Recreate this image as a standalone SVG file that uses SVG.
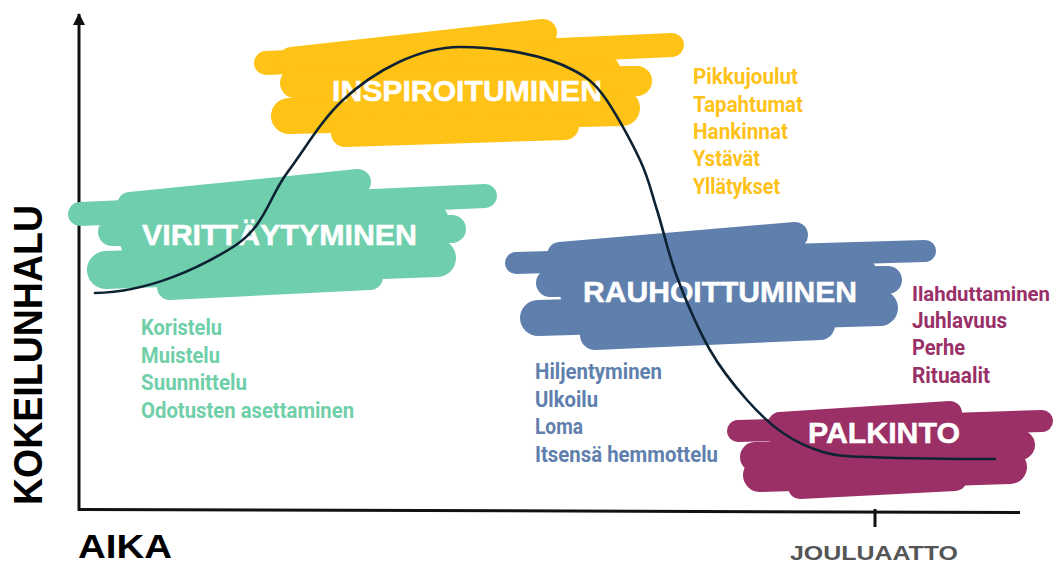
<svg xmlns="http://www.w3.org/2000/svg" width="1057" height="565" viewBox="0 0 1057 565">
<defs>
<style>
.bg{fill:#ffffff}
.axis{stroke:#111111;stroke-width:3;fill:none}
.br{fill:none;stroke-linecap:round;stroke-linejoin:round}
.green .br{stroke:#6fcfad}
.yellow .br{stroke:#ffc216}
.blue .br{stroke:#5f7fad}
.magenta .br{stroke:#9b3066}
.label{font-family:"Liberation Sans",Arial,sans-serif;font-weight:700;font-size:30px;fill:#ffffff;stroke:#ffffff;stroke-width:0.5}
.list{font-family:Roboto,"Liberation Sans",sans-serif;font-weight:700;font-size:22px}
.green .list{fill:#6fcfa9}
.yellow .list{fill:#ffc21a}
.blue .list{fill:#5f7fae}
.magenta .list{fill:#9a3068}
.curve{fill:none;stroke:#0d2233;stroke-width:2.6;stroke-linecap:round}
.axtitle{font-family:"Liberation Sans",Arial,sans-serif;font-weight:700;fill:#000000}
</style>
<marker id="arrow" viewBox="0 0 12 12" refX="11" refY="6" markerWidth="12" markerHeight="12" markerUnits="userSpaceOnUse" orient="auto">
<path d="M0,0 L12,6 L0,12 Z" fill="#111111"/>
</marker>
</defs>
<rect class="bg" x="0" y="0" width="1057" height="565"/>

<g id="axes">
<line class="axis" x1="79" y1="511" x2="79" y2="14" marker-end="url(#arrow)"/>
<path class="axis" d="M79,509.5 L1020,512.5"/>
<line class="axis" x1="875" y1="509" x2="875" y2="527"/>
<text class="axtitle" x="78" y="558" font-size="33" textLength="94" lengthAdjust="spacingAndGlyphs">AIKA</text>
<text class="axtitle" transform="translate(42,505) rotate(-90)" x="0" y="0" font-size="40" textLength="300" lengthAdjust="spacingAndGlyphs">KOKEILUNHALU</text>
<text class="axtitle" x="790" y="560" font-size="21" style="fill:#555555" textLength="168" lengthAdjust="spacingAndGlyphs">JOULUAATTO</text>
</g>

<g id="viritt" class="green">
<path class="br" stroke-width="60" d="M150,240 L420,226"/>
<path class="br" stroke-width="24" d="M80,214 L485,196"/>
<path class="br" stroke-width="26" d="M130,205 L358,182"/>
<path class="br" stroke-width="28" d="M112,232 L452,229"/>
<path class="br" stroke-width="38" d="M106,270 L437,258"/>
<path class="br" stroke-width="26" d="M170,287 L370,277"/>
<text class="label" x="142" y="245" textLength="275" lengthAdjust="spacingAndGlyphs">VIRITTÄYTYMINEN</text>
<text class="list" x="141" y="335" textLength="81" lengthAdjust="spacingAndGlyphs">Koristelu</text>
<text class="list" x="141" y="363" textLength="79" lengthAdjust="spacingAndGlyphs">Muistelu</text>
<text class="list" x="141" y="390" textLength="106" lengthAdjust="spacingAndGlyphs">Suunnittelu</text>
<text class="list" x="141" y="418" textLength="213" lengthAdjust="spacingAndGlyphs">Odotusten asettaminen</text>
</g>

<g id="inspir" class="yellow">
<path class="br" stroke-width="66" d="M330,90 L590,80"/>
<path class="br" stroke-width="24" d="M266,63 L672,45"/>
<path class="br" stroke-width="28" d="M292,61 L543,33"/>
<path class="br" stroke-width="30" d="M295,83 L637,81"/>
<path class="br" stroke-width="36" d="M289,116 L622,108"/>
<path class="br" stroke-width="28" d="M345,133 L565,126"/>
<text class="label" x="332" y="101" textLength="270" lengthAdjust="spacingAndGlyphs">INSPIROITUMINEN</text>
<text class="list" x="693" y="84" textLength="105" lengthAdjust="spacingAndGlyphs">Pikkujoulut</text>
<text class="list" x="693" y="112" textLength="110" lengthAdjust="spacingAndGlyphs">Tapahtumat</text>
<text class="list" x="693" y="139" textLength="95" lengthAdjust="spacingAndGlyphs">Hankinnat</text>
<text class="list" x="693" y="166" textLength="67" lengthAdjust="spacingAndGlyphs">Ystävät</text>
<text class="list" x="693" y="194" textLength="87" lengthAdjust="spacingAndGlyphs">Yllätykset</text>
</g>

<g id="rauhoit" class="blue">
<path class="br" stroke-width="60" d="M590,292 L850,282"/>
<path class="br" stroke-width="22" d="M516,263 L925,251"/>
<path class="br" stroke-width="26" d="M560,255 L795,235"/>
<path class="br" stroke-width="28" d="M550,283 L888,280"/>
<path class="br" stroke-width="36" d="M538,318 L880,308"/>
<path class="br" stroke-width="30" d="M595,335 L820,325"/>
<text class="label" x="583" y="302" textLength="274" lengthAdjust="spacingAndGlyphs">RAUHOITTUMINEN</text>
<text class="list" x="535" y="379" textLength="127" lengthAdjust="spacingAndGlyphs">Hiljentyminen</text>
<text class="list" x="535" y="407" textLength="63" lengthAdjust="spacingAndGlyphs">Ulkoilu</text>
<text class="list" x="535" y="434" textLength="48" lengthAdjust="spacingAndGlyphs">Loma</text>
<text class="list" x="535" y="462" textLength="183" lengthAdjust="spacingAndGlyphs">Itsensä hemmottelu</text>
</g>

<g id="palkinto" class="magenta">
<path class="br" stroke-width="50" d="M790,456 L1000,446"/>
<path class="br" stroke-width="22" d="M738,431 L1042,421"/>
<path class="br" stroke-width="24" d="M780,424 L950,413"/>
<path class="br" stroke-width="30" d="M755,457 L1020,445"/>
<path class="br" stroke-width="34" d="M760,475 L1010,467"/>
<path class="br" stroke-width="24" d="M800,487 L955,479"/>
<text class="label" x="808" y="443" textLength="152" lengthAdjust="spacingAndGlyphs">PALKINTO</text>
<text class="list" x="912" y="301" style="font-size:21px" textLength="138" lengthAdjust="spacingAndGlyphs">Ilahduttaminen</text>
<text class="list" x="912" y="328" textLength="95" lengthAdjust="spacingAndGlyphs">Juhlavuus</text>
<text class="list" x="912" y="355" textLength="53" lengthAdjust="spacingAndGlyphs">Perhe</text>
<text class="list" x="912" y="383" textLength="78" lengthAdjust="spacingAndGlyphs">Rituaalit</text>
</g>

<g id="connectors">
<path class="curve" d="M95,293 C150,292 201,267 233,247 C265,227 268.7,197.5 287,173 C305.3,148.5 321.3,120.2 343,100 C375,70 420,47 460,47 C500,47 545,55 573,70 C588.5,78 595,84 603,95 C614.2,110 631,140.8 640,160 C649,179.2 650.8,190.5 657,210 C663.2,229.5 668.2,253.7 677,277 C685.8,300.3 698.3,329.5 710,350 C721.7,370.5 734.8,386.2 747,400 C759.2,413.8 770.3,424.3 783,433 C795.7,441.7 809,448 823,452 C837,456 845,456.5 867,457 C895.7,458 960,459 995,459"/>
</g>
</svg>
